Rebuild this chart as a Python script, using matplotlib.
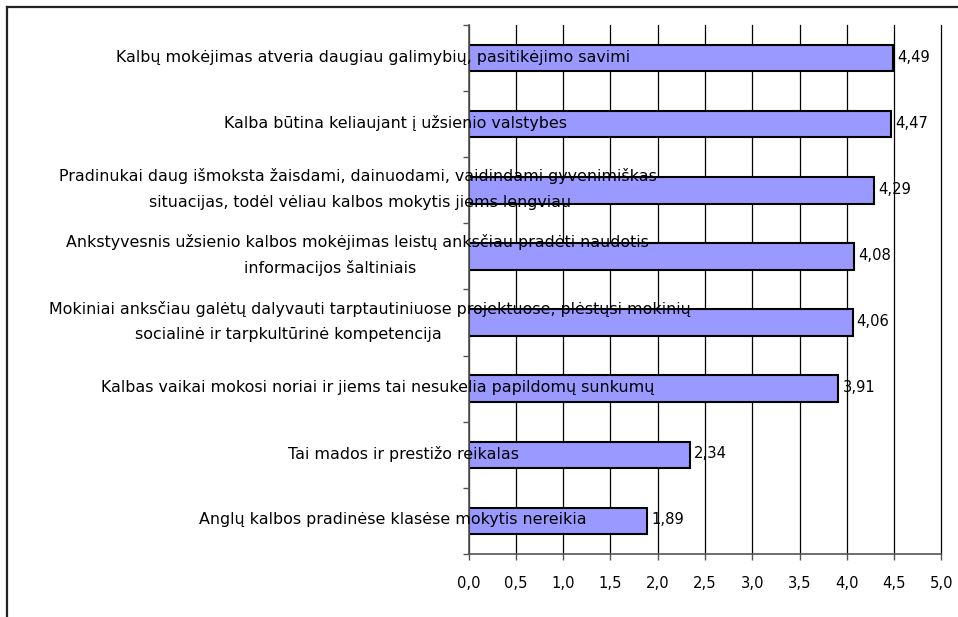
import matplotlib
matplotlib.use("Agg")
import matplotlib.pyplot as plt
from matplotlib.lines import Line2D
import numpy as np

# ---- data ----
categories = [
    ["Kalbų mokėjimas atveria daugiau galimybių, pasitikėjimo savimi"],
    ["Kalba būtina keliaujant į užsienio valstybes"],
    ["Pradinukai daug išmoksta žaisdami, dainuodami, vaidindami gyvenimiškas",
     "situacijas, todėl vėliau kalbos mokytis jiems lengviau"],
    ["Ankstyvesnis užsienio kalbos mokėjimas leistų anksčiau pradėti naudotis",
     "informacijos šaltiniais"],
    ["Mokiniai anksčiau galėtų dalyvauti tarptautiniuose projektuose, plėstųsi mokinių",
     "socialinė ir tarpkultūrinė kompetencija"],
    ["Kalbas vaikai mokosi noriai ir jiems tai nesukelia papildomų sunkumų"],
    ["Tai mados ir prestižo reikalas"],
    ["Anglų kalbos pradinėse klasėse mokytis nereikia"],
]
values = [4.49, 4.47, 4.29, 4.08, 4.06, 3.91, 2.34, 1.89]
x_ticks = [0.0, 0.5, 1.0, 1.5, 2.0, 2.5, 3.0, 3.5, 4.0, 4.5, 5.0]
x_tick_labels = ["0,0", "0,5", "1,0", "1,5", "2,0", "2,5", "3,0", "3,5", "4,0", "4,5", "5,0"]

# ---- layout (pixel centres of each label line) ----
label_centers_px = [[373], [396], [358, 360], [357, 330], [370, 288], [378], [404], [393]]

W, H = 958, 617
FS = 11.4
FS_TICK = 10.6
fig = plt.figure(figsize=(W / 100, H / 100), dpi=100)
fig.patch.set_facecolor("white")
ax = fig.add_axes([468.5 / W, 1 - 554 / H, 473 / W, 529 / H])

y = np.arange(len(values))
ax.barh(y, values, height=0.4, color="#9999FF", edgecolor="black", linewidth=1.5, zorder=2)

ax.set_xlim(0, 5)
ax.set_ylim(len(values) - 0.5, -0.5)
ax.set_xticks(x_ticks)
ax.set_xticklabels(x_tick_labels, fontsize=FS_TICK, family="DejaVu Sans")
ax.set_yticks(np.arange(-0.5, len(values), 1))
ax.set_yticklabels([])
ax.tick_params(axis="x", direction="out", length=4, width=1, color="#555555", pad=12)
ax.tick_params(axis="y", direction="out", length=4, width=1, color="#555555")
ax.grid(axis="x", color="black", linewidth=0.9, zorder=0)
ax.set_axisbelow(True)
for gl in ax.get_xgridlines():
    gl.set_clip_on(False)
for s in ["top", "right"]:
    ax.spines[s].set_visible(False)
for s in ["left", "bottom"]:
    ax.spines[s].set_color("#555555")
    ax.spines[s].set_linewidth(1.2)

# value labels
for yi, v in zip(y, values):
    ax.annotate(f"{v:.2f}".replace(".", ","), xy=(v, yi), xytext=(4, 1),
                textcoords="offset pixels", va="center", ha="left",
                fontsize=FS_TICK, family="DejaVu Sans", zorder=5)

# category labels
for yi, lines, cxs in zip(y, categories, label_centers_px):
    n = len(lines)
    for k, (line, cx) in enumerate(zip(lines, cxs)):
        dy = (((n - 1) / 2) - k) * 26
        ax.annotate(line, xy=(cx / W, yi), xycoords=("figure fraction", "data"),
                    xytext=(0, dy + 1), textcoords="offset pixels",
                    ha="center", va="center", fontsize=FS, family="DejaVu Sans",
                    zorder=6, annotation_clip=False)

# outer chart border (clipped at right and bottom)
fig.add_artist(Line2D([7 / W, 1.0], [1 - 7 / H, 1 - 7 / H], transform=fig.transFigure,
                      color="#222222", linewidth=1.6))
fig.add_artist(Line2D([7 / W, 7 / W], [1 - 7 / H, 0.0], transform=fig.transFigure,
                      color="#222222", linewidth=1.6))

fig.savefig("out.png", dpi=100, facecolor="white")
